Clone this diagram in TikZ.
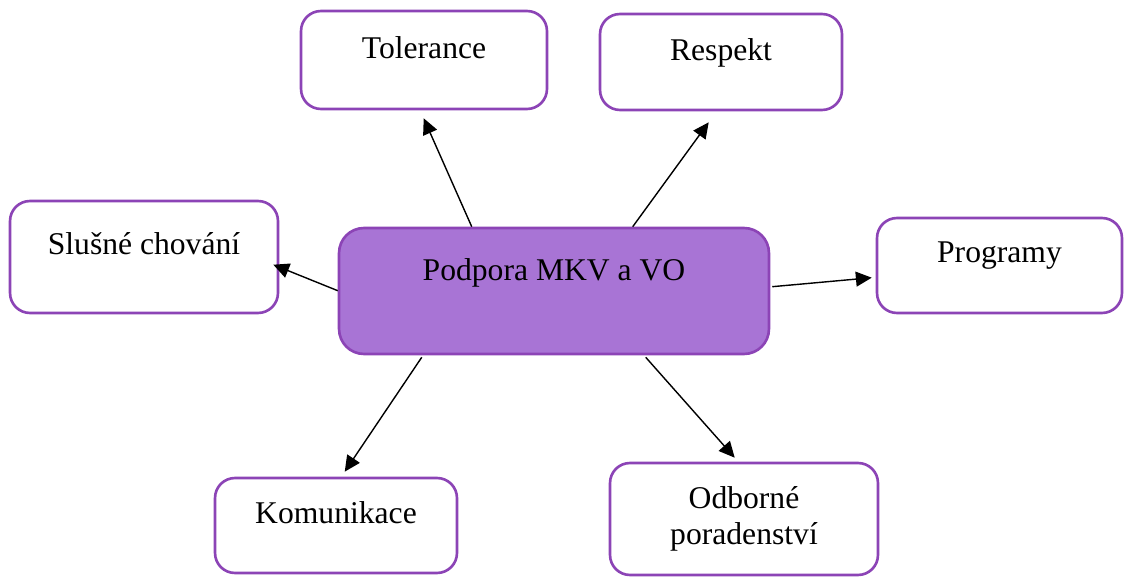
\documentclass[tikz,border=0pt]{standalone}
\usepackage{fontspec}
\setmainfont{Liberation Serif}
\usetikzlibrary{arrows.meta,calc}
\definecolor{boxline}{RGB}{140,68,182}
\definecolor{boxfill}{RGB}{168,116,213}
\begin{document}
\begin{tikzpicture}[x=0.02cm,y=-0.02cm,
  box/.style={draw=boxline, line width=1.5pt, rounded corners=0.4cm, fill=white,
    inner sep=0pt, align=center, font=\fontsize{18}{20.4}\selectfont},
  hub/.style={box, fill=boxfill, rounded corners=0.5cm},
  arr/.style={-{Triangle[length=9pt,width=8.5pt]}, line width=0.8pt, black}]
\useasboundingbox (0,0) rectangle (1125,577);

\node[hub, minimum width=8.6cm, text height=1.04cm, text depth=1.48cm] (c) at (554,291) {Podpora MKV a VO};
\node[box, minimum width=4.92cm, text height=0.96cm, text depth=1.0cm] (tol) at (424,60) {Tolerance};
\node[box, minimum width=4.84cm, text height=0.94cm, text depth=0.98cm] (res) at (721,62) {Respekt};
\node[box, minimum width=5.36cm, text height=1.08cm, text depth=1.16cm] (sl) at (144,257) {Slušné chování};
\node[box, minimum width=4.9cm, text height=0.9cm, text depth=1.0cm] (prog) at (999.5,265.5) {Programy};
\node[box, minimum width=4.84cm, text height=0.9cm, text depth=1.0cm] (kom) at (336,525.5) {Komunikace};
\node[box, minimum width=5.36cm, minimum height=2.24cm] (odb) at (744,519) {Odborné\\poradenství};

\coordinate (tTol) at ($(tol.south west)+(124,8)$);
\coordinate (tRes) at ($(res.south west)+(110,11)$);
\coordinate (tSl) at ($(sl.north east)+(-6,65)$);
\coordinate (tProg) at ($(prog.north west)+(-4,61)$);
\coordinate (tKom) at ($(kom.north west)+(131,-5)$);
\coordinate (tOdb) at ($(odb.north west)+(126,-4)$);

\draw[arr] ($(c.north west)+(134,0)$) -- (tTol);
\draw[arr] ($(c.north west)+(295,0)$) -- (tRes);
\draw[arr] ($(c.north west)+(0,64)$) -- (tSl);
\draw[arr] ($(c.north east)+(2,60)$) -- (tProg);
\draw[arr] ($(c.south west)+(84,2)$) -- (tKom);
\draw[arr] ($(c.south west)+(308,2)$) -- (tOdb);
\end{tikzpicture}
\end{document}
